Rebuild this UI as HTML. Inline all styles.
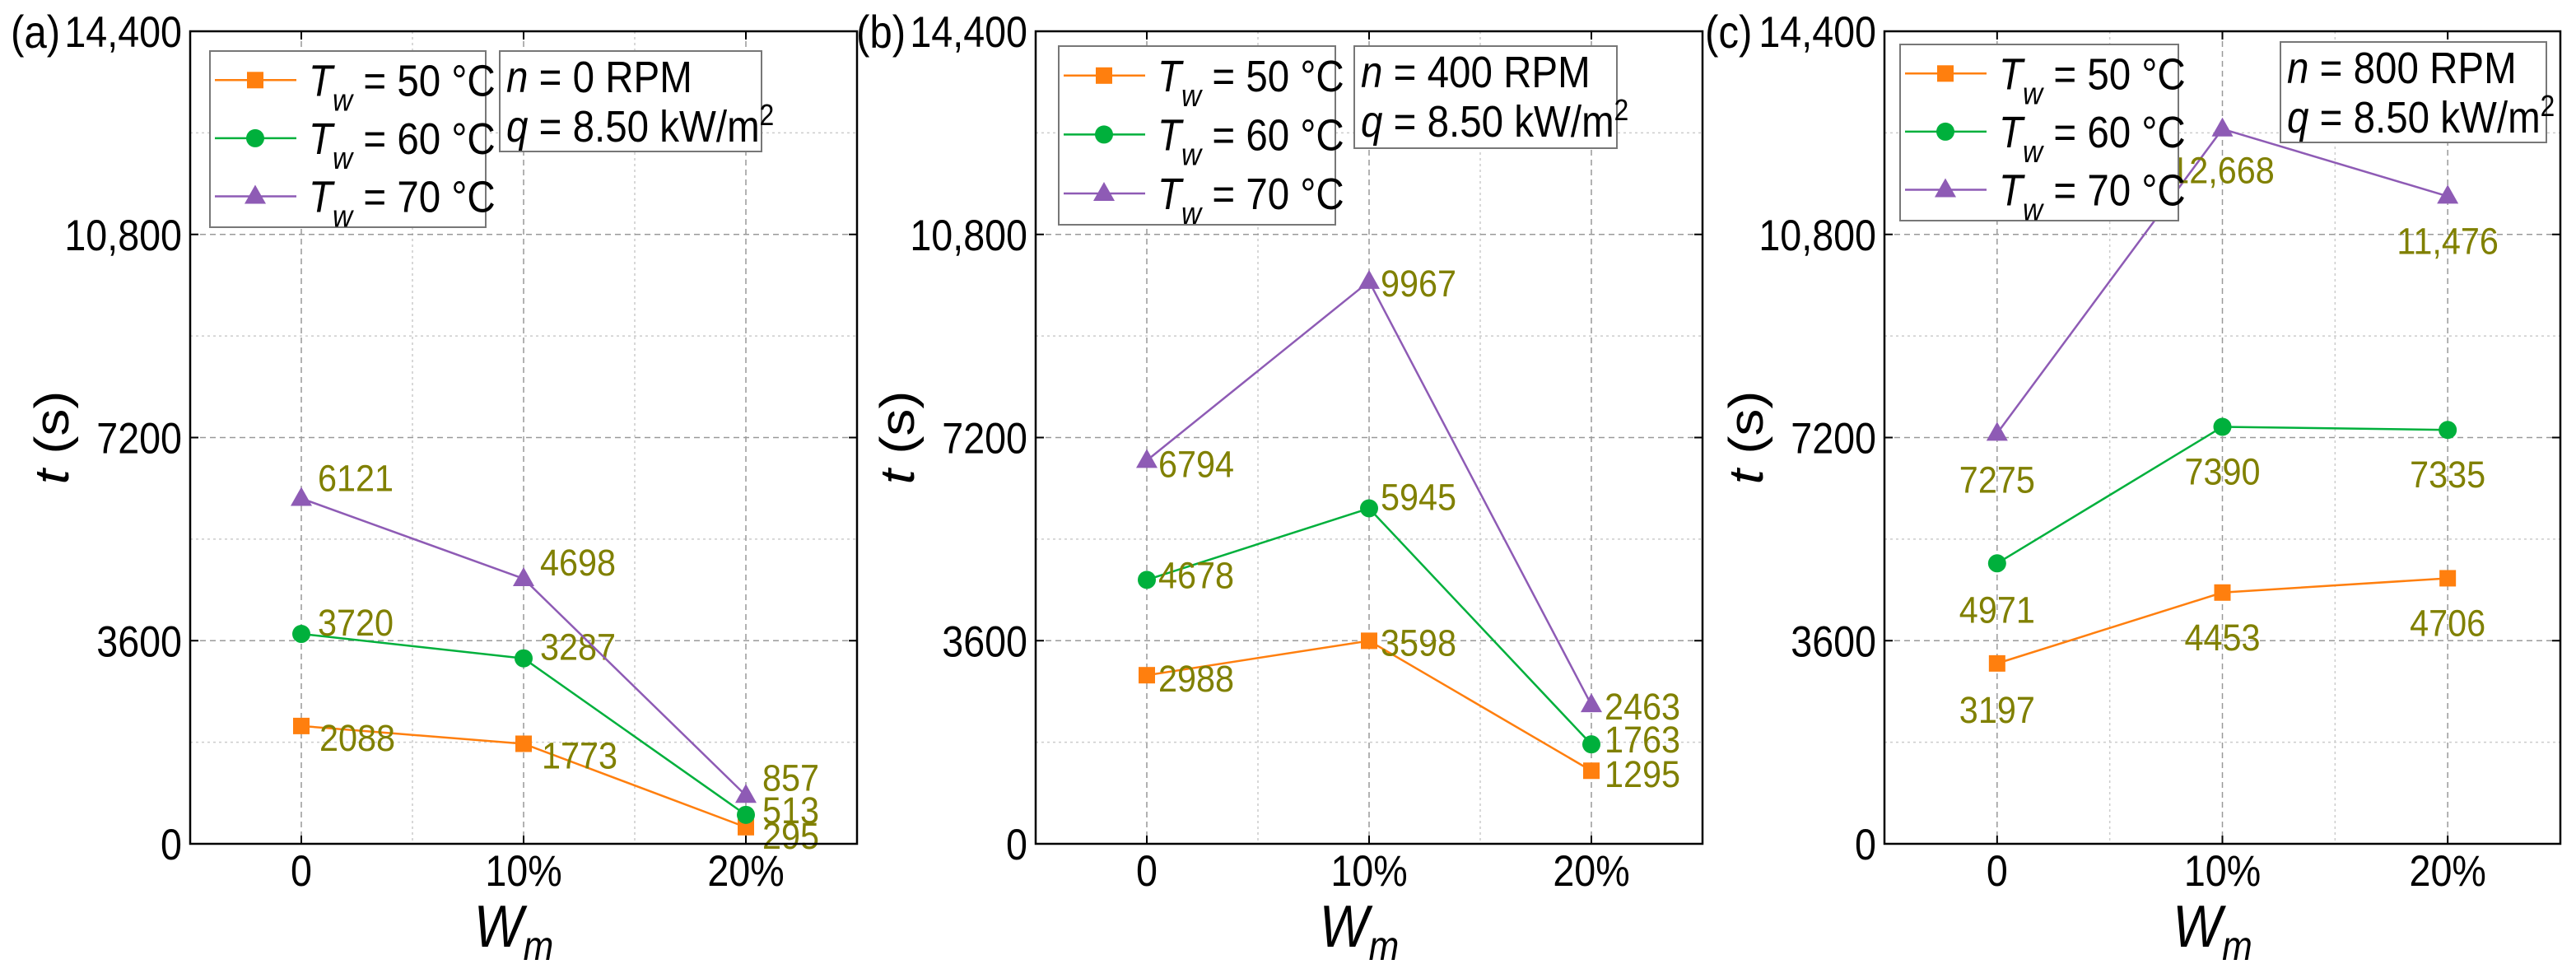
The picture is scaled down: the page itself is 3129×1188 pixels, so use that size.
<!DOCTYPE html>
<html><head><meta charset="utf-8"><style>
html,body{margin:0;padding:0;background:#fff}
svg{display:block}
text{font-family:"Liberation Sans",sans-serif}
</style></head><body>
<svg id="fig" width="3129" height="1188" viewBox="0 0 3129 1188" xmlns="http://www.w3.org/2000/svg"></svg>
<script>
const categories = ["0","10%","20%"];
const yTicks = [0,3600,7200,10800,14400];
const yTickLabels = ["0","3600","7200","10,800","14,400"];
const seriesNames = ["50","60","70"];
const panelA_50 = [2088,1773,295];
const panelA_60 = [3720,3287,513];
const panelA_70 = [6121,4698,857];
const panelB_50 = [2988,3598,1295];
const panelB_60 = [4678,5945,1763];
const panelB_70 = [6794,9967,2463];
const panelC_50 = [3197,4453,4706];
const panelC_60 = [4971,7390,7335];
const panelC_70 = [7275,12668,11476];
const speeds = ["0","400","800"];
const colors = ["#ff7f0e","#00b03c","#8e5bb5"];

const NS="http://www.w3.org/2000/svg";
const svg=document.getElementById('fig');
function el(tag,attrs,parent){const e=document.createElementNS(NS,tag);for(const k in attrs)e.setAttribute(k,attrs[k]);(parent||svg).appendChild(e);return e;}
function txt(parent,x,y,sx,attrs){const a=Object.assign({x:0,y:0,transform:`translate(${x},${y}) scale(${sx},1)`},attrs);return el('text',a,parent);}
function fmt(v){return v>=10000?v.toLocaleString('en-US'):String(v);}

const panels=[
 {tag:"(a)",L:231,R:1041,sx:0.88,data:[panelA_50,panelA_60,panelA_70],
  off:[[[22,14],[22,14],[20,10]],[[20,-14],[20,-14],[20,-6]],[[20,-25],[20,-20],[20,-22]]],anchor:"start",
  leg:[255,62,335,214],ann:[607,62,318,122]},
 {tag:"(b)",L:1258,R:2068,sx:0.88,data:[panelB_50,panelB_60,panelB_70],
  off:[[[14,4],[14,2],[16,4]],[[14,-6],[14,-14],[16,-6]],[[14,4],[14,2],[16,2]]],anchor:"start",
  leg:[1286,56,336,217],ann:[1645,56,319,124]},
 {tag:"(c)",L:2289,R:3110,sx:0.88,data:[panelC_50,panelC_60,panelC_70],
  off:[[[0,56],[0,54],[0,54]],[[0,56],[0,54],[0,54]],[[0,56],[0,50],[0,54]]],anchor:"middle",
  leg:[2308,54,338,214],ann:[2770,51,323,122]}
];
const T=38,B=1025;
const yS=v=>B-v/14400*(B-T);

panels.forEach((p,pi)=>{
 const sx=p.sx;
 const g=el('g',{});
 
 
 const xS=i=>p.L+(i+0.5)*(p.R-p.L)/3;
 for(let k=0;k<4;k++){const v=1800+3600*k;const l=el('line',{x1:p.L,x2:p.R,y1:yS(v),y2:yS(v),stroke:'#ccc','stroke-width':1.5,'stroke-dasharray':'3 4'},g);}
 for(let i=0;i<2;i++){const x=(xS(i)+xS(i+1))/2;const l=el('line',{x1:x,x2:x,y1:T,y2:B,stroke:'#ccc','stroke-width':1.5,'stroke-dasharray':'3 4'},g);}
 yTicks.forEach((v,k)=>{
  if(v>0&&v<14400){const l=el('line',{x1:p.L,x2:p.R,y1:yS(v),y2:yS(v),stroke:'#999','stroke-width':1.5,'stroke-dasharray':'7 5'},g);}
  const t=txt(g,p.L-10,yS(v)+19,sx,{'text-anchor':'end','font-size':53,fill:'#000'});t.textContent=yTickLabels[k];
  
  el('line',{x1:p.L,x2:p.L+10,y1:yS(v),y2:yS(v),stroke:'#000','stroke-width':2},g);
  el('line',{x1:p.R,x2:p.R-10,y1:yS(v),y2:yS(v),stroke:'#000','stroke-width':2},g);
 });
 categories.forEach((c,i)=>{
  const x=xS(i);
  const l=el('line',{x1:x,x2:x,y1:T,y2:B,stroke:'#999','stroke-width':1.5,'stroke-dasharray':'7 5'},g);
  el('line',{x1:x,x2:x,y1:T,y2:T+10,stroke:'#000','stroke-width':2},g);
  el('line',{x1:x,x2:x,y1:B,y2:B-10,stroke:'#000','stroke-width':2},g);
  const t=txt(g,x,1076,sx,{'text-anchor':'middle','font-size':53});t.textContent=c;
  
 });
 p.data.forEach((arr,s)=>{
  const pts=arr.map((v,i)=>xS(i)+','+yS(v)).join(' ');
  const pl=el('polyline',{points:pts,fill:'none',stroke:colors[s],'stroke-width':2.5},g);
  
  arr.forEach((v,i)=>{
   const x=xS(i),y=yS(v);let m;
   if(s===0)m=el('rect',{x:x-10,y:y-10,width:20,height:20,fill:colors[s]},g);
   else if(s===1)m=el('circle',{cx:x,cy:y,r:11,fill:colors[s]},g);
   else m=el('polygon',{points:`${x},${y-14} ${x-13},${y+9} ${x+13},${y+9}`,fill:colors[s]},g);
   
   const o=p.off[s][i];
   const t=txt(g,x+o[0],y+o[1]+16,0.92,{'text-anchor':p.anchor,'font-size':45,fill:'#808000'});t.textContent=fmt(v);
   
  });
 });
 const fr=el('rect',{x:p.L,y:T,width:p.R-p.L,height:B-T,fill:'none',stroke:'#000','stroke-width':2.5},g);
 
 const [lx,ly,lw,lh]=p.leg;
 const lg=el('g',{},g);
 el('rect',{x:lx,y:ly,width:lw,height:lh,fill:'#fff',stroke:'#777','stroke-width':2},lg);
 [0,1,2].forEach(s=>{
  const yy=ly+lh*(0.165+0.33*s);
  const e=el('g',{},lg);
  el('line',{x1:lx+6,x2:lx+105,y1:yy,y2:yy,stroke:colors[s],'stroke-width':2.5},e);
  const mx=lx+55;
  if(s===0)el('rect',{x:mx-10,y:yy-10,width:20,height:20,fill:colors[s]},e);
  else if(s===1)el('circle',{cx:mx,cy:yy,r:11,fill:colors[s]},e);
  else el('polygon',{points:`${mx},${yy-14} ${mx-13},${yy+9} ${mx+13},${yy+9}`,fill:colors[s]},e);
  const t=txt(e,lx+120,yy+19,sx,{'font-size':54});
  t.innerHTML='<tspan font-style="italic">T</tspan><tspan font-style="italic" font-size="38" dy="18">w</tspan><tspan dy="-18"> = '+seriesNames[s]+' °C</tspan>';
 });
 const [ax,ay,aw,ah]=p.ann;
 const ag=el('g',{},g);
 el('rect',{x:ax,y:ay,width:aw,height:ah,fill:'#fff',stroke:'#777','stroke-width':2},ag);
 const t1=txt(ag,ax+8,ay+50,sx,{'font-size':54});
 t1.innerHTML='<tspan font-style="italic">n</tspan> = '+speeds[pi]+' RPM';
 const t2=txt(ag,ax+8,ay+110,sx,{'font-size':54});
 t2.innerHTML='<tspan font-style="italic">q</tspan> = 8.50 kW/m<tspan font-size="36" dy="-20">2</tspan>';
 const pt=txt(g,p.L-218,58,sx,{'font-size':56});pt.textContent=p.tag;
 
 const yt=el('text',{transform:`translate(${p.L-148},${(T+B)/2}) rotate(-90) scale(1,${sx})`,x:0,y:0,'text-anchor':'middle','font-size':66},g);
 yt.innerHTML='<tspan font-style="italic">t</tspan> (s)';
 
 const xt=txt(g,(p.L+p.R)/2-12,1150,sx,{'text-anchor':'middle','font-size':72,'font-style':'italic'});
 xt.innerHTML='W<tspan font-size="50" dy="16">m</tspan>';
 
});
</script>
</body></html>
